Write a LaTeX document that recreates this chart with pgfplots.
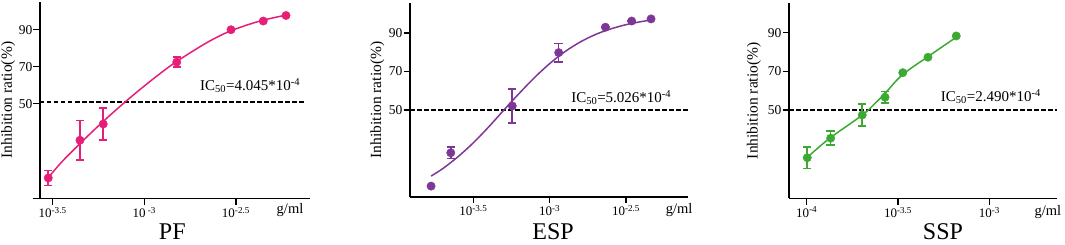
\documentclass[border=0pt]{standalone}
\usepackage{pgfplots}
\pgfplotsset{compat=1.18}
\usepackage{fontspec}
\setmainfont{Liberation Serif}
\definecolor{pfc}{RGB}{230,30,120}
\definecolor{espc}{RGB}{125,55,150}
\definecolor{sspc}{RGB}{60,170,50}
\pgfplotsset{
  myax/.style={
    scale only axis, anchor=south west, axis lines=left,
    axis line style={-, line width=1.6pt},
    tick align=outside, major tick length=6.5pt,
    tick style={black, line width=1.4pt},
    ytick={50,70,90},
    /pgf/number format/assume math mode=true,
    yticklabel style={font=\fontsize{13.5}{13.5}\selectfont, inner sep=1pt},
    xticklabel style={font=\fontsize{13}{13}\selectfont, inner sep=2pt},
    ylabel={Inhibition ratio(\%)},
    ylabel style={font=\fontsize{15.5}{15.5}\selectfont, anchor=center},
    clip=false,
  },
  curve/.style={line width=1.5pt, smooth, tension=0.55},
  pts/.style={only marks, mark=*, mark size=4.2pt,
    error bars/.cd, y dir=both, y explicit,
    error bar style={line width=1.6pt},
    error mark options={rotate=90, mark size=4.2pt, line width=1.6pt}},
  ic/.style={black, line width=1.6pt, dash pattern=on 4.5pt off 2.5pt},
}
\newcommand\lab[1]{\fontsize{15}{15}\selectfont #1}
\begin{document}
\begin{tikzpicture}
\useasboundingbox (0,0) rectangle (1065pt,244pt);
% ---------- PF ----------
\begin{axis}[myax, at={(40pt,45.7pt)}, width=270pt, height=196.3pt,
  xmin=-3.569, xmax=-2.096, ymin=-1.2, ymax=105,
  x axis line style={shorten <=-7pt},
  xtick={-3.5,-3,-2.5},
  xticklabels={10\textsuperscript{-3.5},10\,\textsuperscript{-3},10\textsuperscript{-2.5}},
  ylabel style={at={(axis description cs:-0.118,0.5)}}]
\addplot[ic] coordinates {(-3.569,51) (-2.118,51)};
\addplot[pfc, curve] coordinates {(-3.524,10.0) (-3.45,18.5) (-3.35,28.5) (-3.25,38.0) (-3.15,47.0) (-3.05,55.5) (-2.95,63.5) (-2.85,71.0) (-2.75,77.5) (-2.65,83.5) (-2.55,88.5) (-2.45,92.2) (-2.35,95.2) (-2.223,98.0)};
\addplot[pfc, pts] coordinates {(-3.524,9.8) +- (0,4.1) (-3.351,30.2) +- (0,10.6) (-3.224,39.0) +- (0,8.5) (-2.823,72.5) +- (0,2.8) (-2.527,90.0) +- (0,0) (-2.351,94.7) +- (0,0) (-2.227,97.7) +- (0,0)};
\node[anchor=base west, inner sep=0pt] at (axis cs:-2.696,57.1) {\lab{IC\textsubscript{50}=4.045*10\textsuperscript{-4}}};
\node[font=\fontsize{14.5}{14.5}\selectfont] at (axis description cs:0.926,-0.06) {g/ml};
\node[font=\fontsize{24}{24}\selectfont] at (axis description cs:0.49,-0.172) {PF};
\end{axis}
% ---------- ESP ----------
\begin{axis}[myax, at={(410pt,47.3pt)}, width=278.3pt, height=193.4pt,
  xmin=-3.915, xmax=-2.092, ymin=5, ymax=105.4,
  xtick={-3.5,-3,-2.5},
  xticklabels={10\textsuperscript{-3.5},10\textsuperscript{-3},10\textsuperscript{-2.5}},
  ylabel style={at={(axis description cs:-0.117,0.5)}}]
\addplot[ic] coordinates {(-3.915,50) (-2.092,50)};
\addplot[espc, curve] coordinates {(-3.777,15.7) (-3.70,19.6) (-3.60,25.8) (-3.50,33.0) (-3.40,41.2) (-3.30,50.0) (-3.20,58.6) (-3.10,66.8) (-3.00,74.1) (-2.90,80.3) (-2.80,85.3) (-2.70,89.2) (-2.60,92.1) (-2.50,94.3) (-2.40,95.9) (-2.336,96.7)};
\addplot[espc, pts] coordinates {(-3.777,10.5) +- (0,0) (-3.648,27.8) +- (0,3.0) (-3.245,52.1) +- (0,8.7) (-2.941,79.8) +- (0,4.8) (-2.635,93.0) +- (0,0) (-2.463,96.2) +- (0,0) (-2.336,97.3) +- (0,0)};
\node[anchor=base west, inner sep=0pt] at (axis cs:-2.86,53.8) {\lab{IC\textsubscript{50}=5.026*10\textsuperscript{-4}}};
\node[font=\fontsize{14.5}{14.5}\selectfont] at (axis description cs:0.967,-0.069) {g/ml};
\node[font=\fontsize{24}{24}\selectfont] at (axis description cs:0.514,-0.183) {ESP};
\end{axis}
% ---------- SSP ----------
\begin{axis}[myax, at={(789pt,45.7pt)}, width=267.7pt, height=195pt,
  xmin=-4.097, xmax=-2.631, ymin=4.3, ymax=105.2,
  xtick={-4,-3.5,-3},
  xticklabels={10\textsuperscript{-4},10\textsuperscript{-3.5},10\textsuperscript{-3}},
  ylabel style={at={(axis description cs:-0.131,0.5)}}]
\addplot[ic] coordinates {(-4.097,50) (-2.631,50)};
\addplot[sspc, curve] coordinates {(-3.993,25.8) (-3.874,35.4) (-3.695,47.4) (-3.622,53.8) (-3.571,58.6) (-3.476,68.2) (-3.330,78.0) (-3.171,88.3)};
\addplot[sspc, pts] coordinates {(-3.997,25.3) +- (0,5.5) (-3.869,35.4) +- (0,3.6) (-3.696,47.4) +- (0,5.8) (-3.571,56.6) +- (0,3.0) (-3.474,69.3) +- (0,0) (-3.336,77.3) +- (0,0) (-3.181,88.3) +- (0,0)};
\node[anchor=base west, inner sep=0pt] at (axis cs:-3.266,54.3) {\lab{IC\textsubscript{50}=2.490*10\textsuperscript{-4}}};
\node[font=\fontsize{14.5}{14.5}\selectfont] at (axis description cs:0.967,-0.07) {g/ml};
\node[font=\fontsize{24}{24}\selectfont] at (axis description cs:0.575,-0.173) {SSP};
\end{axis}
\end{tikzpicture}
\end{document}
